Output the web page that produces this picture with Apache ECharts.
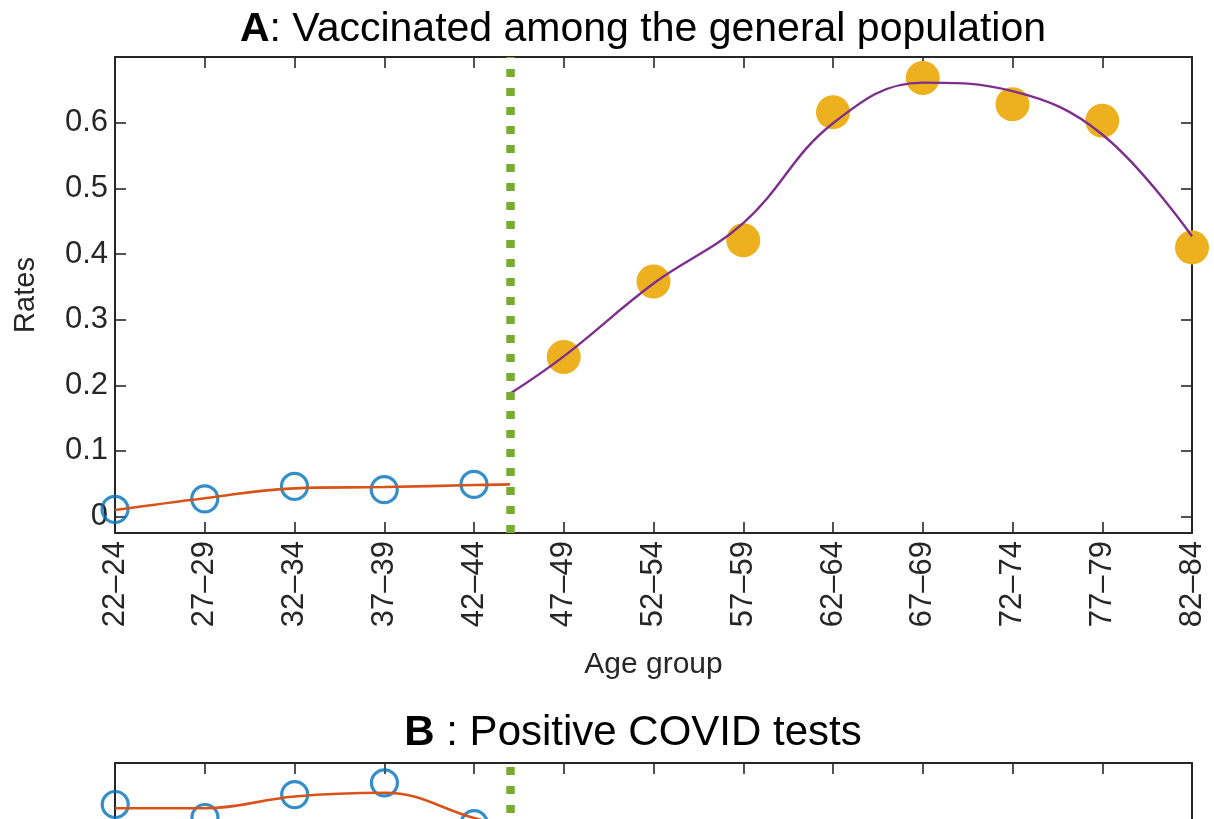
<!DOCTYPE html>
<html>
<head>
<meta charset="utf-8">
<script src="https://cdn.jsdelivr.net/npm/echarts@6/dist/echarts.min.js"></script>
<style>
  html, body { margin: 0; padding: 0; background: #fff; overflow: hidden; }
  #main { width: 1214px; height: 1360px; }
</style>
</head>
<body>
<div id="main"></div>
<script>
// age groups on the x axis (positions 0..12)
var ageGroups = ['22–24', '27–29', '32–34', '37–39', '42–44', '47–49', '52–54',
                 '57–59', '62–64', '67–69', '72–74', '77–79', '82–84'];
// threshold between the two groups (age 45)
var thresholdX = 4.4;

// A: vaccinated among the general population
var vaccYoungX = [0, 1, 2, 3, 4];
var vaccYoung = [0.011, 0.027, 0.046, 0.041, 0.049];
var vaccOldX = [5, 6, 7, 8, 9, 10, 11, 12];
var vaccOld = [0.243, 0.358, 0.421, 0.616, 0.668, 0.628, 0.603, 0.410];
var vaccFitYoungX = [0, 1, 2, 3, 4, 4.4];
var vaccFitYoung = [0.010, 0.028, 0.043, 0.045, 0.048, 0.049];
var vaccFitOldX = [4.4, 5, 6, 7, 8, 9, 10, 11, 12];
var vaccFitOld = [0.187, 0.244, 0.355, 0.447, 0.599, 0.661, 0.648, 0.582, 0.427];

// B: positive COVID tests (only the top of the panel is visible)
var posYoungX = [0, 1, 2, 3, 4];
var posYoung = [0.0633, 0.0612, 0.0649, 0.0668, 0.0602];
var posFitYoungX = [0, 1, 2, 3, 4, 4.4];
var posFitYoung = [0.0627, 0.0627, 0.0646, 0.0652, 0.0611, 0.0595];

// y ticks
var rateTicksA = [0, 0.1, 0.2, 0.3, 0.4, 0.5, 0.6];
var rateTicksB = [0, 0.01, 0.02, 0.03, 0.04, 0.05];

function pairs(xs, ys) {
  return xs.map(function (x, i) { return [x, ys[i]]; });
}

var FONT = 'Liberation Sans, Arial, Helvetica, sans-serif';
var INK = '#262626';
var axisLine = { show: true, onZero: false, lineStyle: { color: INK, width: 2 } };
var tick = { show: true, inside: true, length: 11, lineStyle: { color: INK, width: 1.6 } };

function xAxes(grid) {
  return [{
    type: 'value', gridIndex: grid, position: 'bottom', min: 0, max: 12, interval: 1,
    name: 'Age group', nameLocation: 'middle', nameGap: 117,
    nameTextStyle: { fontFamily: FONT, fontSize: 30, color: INK },
    axisLine: axisLine, axisTick: tick, splitLine: { show: false },
    axisLabel: {
      rotate: 90, margin: 8, fontFamily: FONT, fontSize: 31, color: INK,
      formatter: function (v) { return ageGroups[Math.round(v)]; }
    }
  }, {
    type: 'value', gridIndex: grid, position: 'top', min: 0, max: 12, interval: 1,
    axisLine: axisLine, axisTick: tick, splitLine: { show: false },
    axisLabel: { show: false }
  }];
}

function yAxes(grid, min, max, ticks, digits) {
  return [{
    type: 'value', gridIndex: grid, position: 'left', min: min, max: max,
    name: 'Rates', nameLocation: 'middle', nameGap: 75,
    nameTextStyle: { fontFamily: FONT, fontSize: 29, color: INK },
    axisLine: axisLine, splitLine: { show: false },
    axisTick: Object.assign({ customValues: ticks }, tick),
    axisLabel: {
      customValues: ticks, margin: 7, fontFamily: FONT, fontSize: 31, color: INK,
      formatter: function (v) { return v === 0 ? '0' : v.toFixed(digits); }
    }
  }, {
    type: 'value', gridIndex: grid, position: 'right', min: min, max: max,
    axisLine: axisLine, splitLine: { show: false },
    axisTick: Object.assign({ customValues: ticks }, tick),
    axisLabel: { show: false }
  }];
}

function threshold() {
  return {
    silent: true, symbol: 'none', label: { show: false },
    lineStyle: { color: '#77AC30', width: 8.5, type: [8, 11], cap: 'butt' },
    data: [{ xAxis: thresholdX }]
  };
}

var openCircle = { color: 'transparent', borderColor: '#0072BD', borderWidth: 3.2 };
var filledCircle = { color: '#EDB120', opacity: 1 };

var chart = echarts.init(document.getElementById('main'), null, { renderer: 'canvas' });
chart.setOption({
  animation: false,
  backgroundColor: '#fff',
  title: [{
    text: '{b|A}: Vaccinated among the general population',
    left: 638, top: 4, textAlign: 'center',
    textStyle: {
      fontFamily: FONT, fontSize: 41, fontWeight: 'normal', color: '#000',
      rich: { b: { fontFamily: FONT, fontSize: 41, fontWeight: 'bold', color: '#000' } }
    }
  }, {
    text: '{b|B} : Positive COVID tests',
    left: 628, top: 707, textAlign: 'center',
    textStyle: {
      fontFamily: FONT, fontSize: 42, fontWeight: 'normal', color: '#000',
      rich: { b: { fontFamily: FONT, fontSize: 42, fontWeight: 'bold', color: '#000' } }
    }
  }],
  grid: [
    { left: 115, top: 57, width: 1077, height: 476 },
    { left: 115, top: 763, width: 1077, height: 476 }
  ],
  xAxis: xAxes(0).concat(xAxes(1)),
  yAxis: yAxes(0, -0.025, 0.7, rateTicksA, 1).concat(yAxes(1, -0.0025, 0.07, rateTicksB, 2)),
  series: [
    // panel A
    {
      type: 'scatter', xAxisIndex: 0, yAxisIndex: 0, z: 2, clip: false,
      symbol: 'circle', symbolSize: 26, itemStyle: openCircle,
      data: pairs(vaccYoungX, vaccYoung), markLine: threshold()
    },
    {
      type: 'scatter', xAxisIndex: 0, yAxisIndex: 0, z: 2, clip: false,
      symbol: 'circle', symbolSize: 34, itemStyle: filledCircle,
      data: pairs(vaccOldX, vaccOld)
    },
    {
      type: 'line', xAxisIndex: 0, yAxisIndex: 0, z: 3, smooth: 0.4,
      showSymbol: false, lineStyle: { color: '#D95319', width: 2.6 },
      data: pairs(vaccFitYoungX, vaccFitYoung)
    },
    {
      type: 'line', xAxisIndex: 0, yAxisIndex: 0, z: 3, smooth: 0.4,
      showSymbol: false, lineStyle: { color: '#7E2F8E', width: 2.4 },
      data: pairs(vaccFitOldX, vaccFitOld)
    },
    // panel B
    {
      type: 'scatter', xAxisIndex: 2, yAxisIndex: 2, z: 2, clip: false,
      symbol: 'circle', symbolSize: 26, itemStyle: openCircle,
      data: pairs(posYoungX, posYoung), markLine: threshold()
    },
    {
      type: 'line', xAxisIndex: 2, yAxisIndex: 2, z: 3, smooth: 0.4,
      showSymbol: false, lineStyle: { color: '#D95319', width: 2.6 },
      data: pairs(posFitYoungX, posFitYoung)
    }
  ]
});
</script>
</body>
</html>
